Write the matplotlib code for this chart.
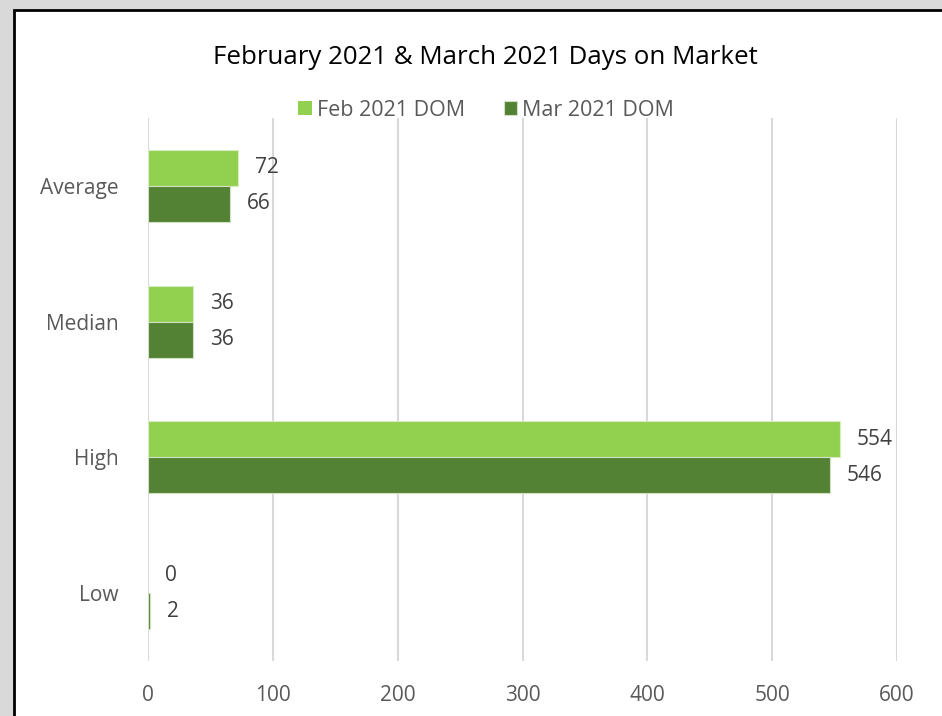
import matplotlib
matplotlib.use("Agg")
import matplotlib.pyplot as plt
from matplotlib.patches import Rectangle

# data
categories = ["Low", "High", "Median", "Average"]
feb_dom = [0, 554, 36, 72]
mar_dom = [2, 546, 36, 66]
series_names = ["Feb 2021 DOM", "Mar 2021 DOM"]
x_ticks = [0, 100, 200, 300, 400, 500, 600]

feb_color = "#92d050"
mar_color = "#548235"
text_gray = "#595959"

plt.rcParams["font.family"] = ["Open Sans", "DejaVu Sans"]

fig = plt.figure(figsize=(9.42, 7.16), dpi=100)
fig.patch.set_facecolor("#d9d9d9")

# white chart area with black border
fig.patches.append(Rectangle((13.5 / 942, -0.05), 1.0, 1 - 10 / 716 + 0.05,
                             transform=fig.transFigure, facecolor="white",
                             edgecolor="black", linewidth=2, zorder=-1))

ax = fig.add_axes([148 / 942, 1 - 661 / 716, 749 / 942, 543 / 716])
ax.set_facecolor("none")
ax.set_zorder(2)

h = 0.265
pos = list(range(len(categories)))
feb_pos = [p + h / 2 for p in pos]
mar_pos = [p - h / 2 for p in pos]
b1 = ax.barh(feb_pos, feb_dom, height=h, color=feb_color, edgecolor="#d8eec0",
             linewidth=0.8, label=series_names[0], zorder=3)
b2 = ax.barh(mar_pos, mar_dom, height=h, color=mar_color, edgecolor="#cfe0c3",
             linewidth=0.8, label=series_names[1], zorder=3)

for bars, vals in ((b1, feb_dom), (b2, mar_dom)):
    for bar, v in zip(bars, vals):
        if v == 0:
            bar.set_linewidth(0)
        ax.annotate(str(v), (v, bar.get_y() + bar.get_height() / 2),
                    xytext=(12, 0), textcoords="offset points",
                    va="center", ha="left", fontsize=15, color="#404040")

ax.set_xlim(0, 600)
ax.set_ylim(-0.5, 3.5)
ax.set_xticks(x_ticks)
ax.set_yticks(pos)
ax.set_yticklabels(categories)
ax.tick_params(axis="both", length=0, labelsize=15, colors=text_gray)
ax.tick_params(axis="x", pad=17)
ax.tick_params(axis="y", pad=21)
ax.grid(axis="x", color="#d9d9d9", linewidth=1.5, zorder=0)
for s in ax.spines.values():
    s.set_visible(False)

fig.text(485 / 942, 1 - 58 / 716, "February 2021 & March 2021 Days on Market",
         ha="center", va="center", fontsize=18.6, color="black")

leg = fig.legend(handles=[b1, b2], loc="center", bbox_to_anchor=(486 / 942, 1 - 110 / 716),
                 ncol=2, frameon=False, fontsize=15.5, handlelength=0.65,
                 handleheight=0.65, handletextpad=0.2, columnspacing=1.8)
for t in leg.get_texts():
    t.set_color(text_gray)

fig.savefig("out.png", dpi=100, facecolor=fig.get_facecolor())
